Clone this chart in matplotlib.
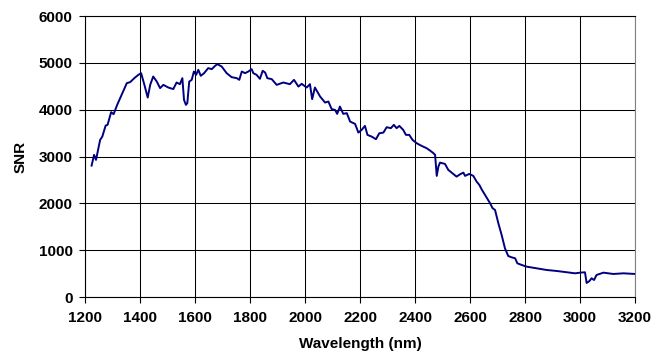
import matplotlib.pyplot as plt

# Dados
wavelength = [1224, 1233, 1240, 1255, 1263, 1275, 1282, 1295, 1304, 1317, 1333, 1352, 1364,
              1382, 1394, 1404, 1416, 1428, 1437, 1448, 1461, 1473, 1485, 1503, 1521, 1533,
              1545, 1554, 1560, 1567, 1572, 1579, 1588, 1596, 1604, 1612, 1621, 1633, 1648,
              1661, 1673, 1681, 1697, 1715, 1733, 1752, 1761, 1770, 1782, 1794, 1806, 1812,
              1824, 1836, 1846, 1855, 1863, 1879, 1897, 1921, 1945, 1960, 1976, 1988, 2006,
              2018, 2026, 2036, 2055, 2073, 2085, 2097, 2109, 2117, 2127, 2139, 2152, 2164,
              2182, 2194, 2206, 2218, 2227, 2242, 2258, 2270, 2285, 2297, 2312, 2323, 2333,
              2343, 2357, 2367, 2379, 2391, 2406, 2424, 2442, 2455, 2467, 2473, 2479, 2485,
              2491, 2509, 2521, 2533, 2551, 2566, 2576, 2582, 2597, 2612, 2624, 2634, 2642,
              2651, 2661, 2673, 2682, 2691, 2703, 2715, 2727, 2739, 2751, 2764, 2772, 2788,
              2806, 2842, 2879, 2915, 2952, 2982, 3000, 3018, 3024, 3034, 3042, 3051, 3060,
              3085, 3121, 3158, 3200]
snr = [2806, 3035, 2928, 3355, 3426, 3661, 3676, 3947, 3904, 4103, 4317, 4567, 4588,
       4687, 4744, 4780, 4530, 4259, 4530, 4708, 4601, 4460, 4530, 4473, 4440, 4580,
       4545, 4673, 4210, 4103, 4139, 4601, 4637, 4815, 4744, 4851, 4723, 4780, 4887,
       4866, 4936, 4973, 4922, 4780, 4695, 4673, 4637, 4815, 4780, 4815, 4866, 4780,
       4744, 4659, 4830, 4794, 4673, 4652, 4530, 4580, 4545, 4637, 4494, 4552, 4473,
       4545, 4225, 4473, 4280, 4152, 4174, 4011, 3996, 3911, 4067, 3911, 3926, 3746,
       3697, 3511, 3569, 3654, 3462, 3426, 3370, 3496, 3511, 3626, 3605, 3676, 3605,
       3654, 3569, 3462, 3462, 3355, 3284, 3227, 3178, 3126, 3071, 3035, 2586, 2785,
       2870, 2842, 2714, 2656, 2571, 2628, 2656, 2586, 2628, 2586, 2464, 2393, 2302,
       2216, 2122, 2002, 1896, 1859, 1575, 1325, 1041, 876, 848, 827, 720, 684,
       648, 613, 577, 556, 528, 506, 520, 528, 300, 340, 400, 363, 470,
       520, 492, 506, 492]

x_ticks = list(range(1200, 3201, 200))
y_ticks = list(range(0, 6001, 1000))

plt.rcParams['font.family'] = ['Liberation Sans', 'DejaVu Sans']
plt.rcParams['font.weight'] = 'bold'

fig = plt.figure(figsize=(6.61, 3.56), dpi=100)
ax = fig.add_axes([0.1286, 0.1657, 0.8321, 0.7893])

ax.plot(wavelength, snr, color="#000080", linewidth=1.4, zorder=3)

ax.set_xlim(1200, 3200)
ax.set_ylim(0, 6000)
ax.set_xticks(x_ticks)
ax.set_yticks(y_ticks)
ax.grid(True, color="black", linewidth=0.75)
ax.set_axisbelow(True)

ax.tick_params(direction="out", length=4, width=0.8, labelsize=11)
ax.tick_params(axis="x", pad=6)
ax.tick_params(axis="y", pad=5)
for lbl in ax.get_xticklabels() + ax.get_yticklabels():
    lbl.set_fontweight("bold")

ax.spines["left"].set_color("black")
ax.spines["bottom"].set_color("black")
ax.spines["top"].set_color("black")
ax.spines["right"].set_color("#808080")
for s in ax.spines.values():
    s.set_linewidth(0.8)

ax.set_xlabel("Wavelength (nm)", fontsize=11, fontweight="bold", labelpad=9)
ax.set_ylabel("SNR", fontsize=11, fontweight="bold", labelpad=8)

fig.savefig("out.png", dpi=100)
